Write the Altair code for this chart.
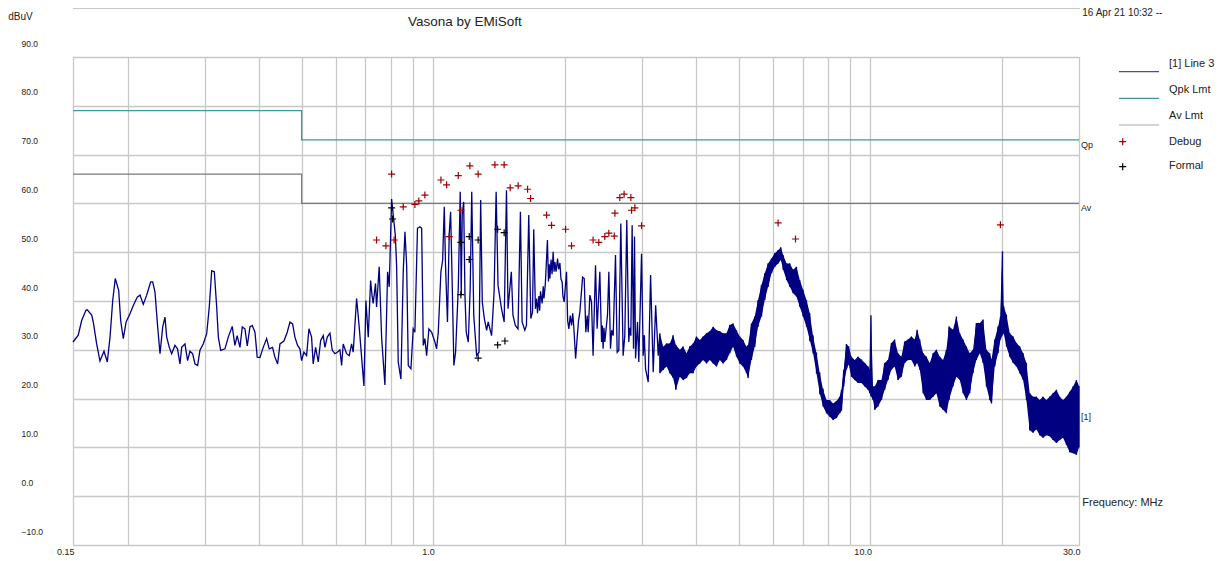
import altair as alt
import pandas as pd

FONT = "Liberation Sans"
NAVY = "#000080"
TEAL = "#3a9c96"
GRAY = "#7a7a7a"
GRID = "#c8c8c8"
TXT = "#222222"

# ---- measured trace "[1] Line 3" (MHz, dBuV), 0.15 - 3.3 MHz ----
trace_f = [0.1500, 0.1542, 0.1570, 0.1606, 0.1617, 0.1655, 0.1669, 0.1699, 0.1729, 0.1766,
           0.1797, 0.1823, 0.1849, 0.1874, 0.1908, 0.1928, 0.1955, 0.1984, 0.2025, 0.2061,
           0.2104, 0.2135, 0.2172, 0.2211, 0.2258, 0.2282, 0.2310, 0.2343, 0.2372, 0.2406,
           0.2435, 0.2457, 0.2491, 0.2522, 0.2566, 0.2601, 0.2635, 0.2659, 0.2705, 0.2743,
           0.2777, 0.2816, 0.2852, 0.2892, 0.2927, 0.2978, 0.3033, 0.3075, 0.3114, 0.3157,
           0.3197, 0.3225, 0.3265, 0.3339, 0.3398, 0.3470, 0.3519, 0.3561, 0.3614, 0.3658,
           0.3710, 0.3756, 0.3809, 0.3856, 0.3911, 0.3958, 0.4015, 0.4085, 0.4159, 0.4217,
           0.4290, 0.4345, 0.4407, 0.4461, 0.4556, 0.4636, 0.4702, 0.4769, 0.4827, 0.4895,
           0.4956, 0.5000, 0.5062, 0.5134, 0.5197, 0.5270, 0.5315, 0.5383, 0.5458, 0.5528,
           0.5604, 0.5654, 0.5723, 0.5805, 0.5876, 0.5961, 0.6033, 0.6118, 0.6173, 0.6225,
           0.6337, 0.6425, 0.6506, 0.6561, 0.6680, 0.6772, 0.6858, 0.6942, 0.7016, 0.7103,
           0.7191, 0.7245, 0.7290, 0.7380, 0.7421, 0.7524, 0.7620, 0.7754, 0.7865, 0.7932,
           0.8033, 0.8190, 0.8247, 0.8318, 0.8436, 0.8540, 0.8617, 0.8695, 0.8770, 0.8893,
           0.9000, 0.9080, 0.9205, 0.9323, 0.9410, 0.9490, 0.9570, 0.9660, 0.9776, 0.9920,
           1.009, 1.018, 1.027, 1.0414, 1.051, 1.060, 1.067, 1.078, 1.088, 1.096,
           1.105, 1.115, 1.125, 1.141, 1.153, 1.159, 1.165, 1.174, 1.182, 1.190,
           1.203, 1.215, 1.225, 1.238, 1.257, 1.273, 1.284, 1.295, 1.309, 1.325,
           1.336, 1.360, 1.378, 1.393, 1.407, 1.433, 1.453, 1.471, 1.483, 1.509,
           1.522, 1.541, 1.563, 1.583, 1.597, 1.620, 1.634, 1.654, 1.672, 1.687,
           1.698, 1.713, 1.725, 1.732, 1.745, 1.752, 1.760, 1.775, 1.785, 1.792,
           1.805, 1.825, 1.835, 1.842, 1.849, 1.860, 1.870, 1.881, 1.890, 1.898,
           1.910, 1.925, 1.935, 1.949, 1.960, 1.972, 1.980, 1.993, 2.018, 2.030,
           2.043, 2.058, 2.072, 2.085, 2.098, 2.117, 2.135, 2.150, 2.165,
           2.196, 2.215, 2.234, 2.250, 2.262, 2.282, 2.302, 2.321, 2.351, 2.371, 2.405,
           2.427, 2.437, 2.447, 2.458, 2.469, 2.504, 2.522, 2.544, 2.560, 2.580, 2.612, 2.635, 2.658,
           2.686, 2.719, 2.743, 2.772, 2.801, 2.815, 2.832, 2.851, 2.872, 2.887, 2.903,
           2.933, 2.953, 2.996, 3.022, 3.040, 3.060, 3.103, 3.142, 3.186, 3.227, 3.271]
trace_v = [31.6, 33.0, 36.0, 38.1, 38.2, 37.1, 35.7, 31.2, 27.7, 29.7,
           27.5, 32.6, 40.1, 44.6, 42.2, 36.0, 32.3, 35.7, 37.4, 39.1,
           40.8, 41.2, 39.3, 41.2, 43.9, 43.9, 41.8, 34.7, 29.2, 34.7,
           36.7, 32.6, 30.5, 29.2, 30.9, 30.2, 27.1, 30.5, 31.2, 27.8,
           29.7, 29.2, 27.1, 26.8, 29.9, 31.2, 33.3, 38.8, 46.2, 46.0,
           38.8, 32.6, 29.9, 30.2, 32.6, 34.8, 30.9, 32.9, 30.5, 34.7,
           34.3, 30.8, 34.7, 35.0, 33.6, 28.5, 28.4, 30.5, 32.3, 30.2,
           30.5, 28.5, 27.1, 31.2, 31.8, 33.6, 35.7, 35.3, 32.6, 30.9,
           30.2, 27.8, 29.5, 28.8, 34.3, 32.6, 27.1, 30.5, 27.5, 31.9,
           32.9, 30.5, 32.6, 33.4, 29.9, 29.2, 29.5, 30.0, 26.8, 31.2,
           29.2, 28.8, 31.2, 29.5, 40.5, 34.7, 28.5, 22.6, 40.1, 32.6,
           44.2, 41.2, 39.5, 43.6, 38.8, 47.0, 32.6, 22.8, 46.0, 42.9,
           60.9, 53.5, 47.3, 27.5, 24.0, 46.0, 54.2, 47.3, 26.8, 26.1,
           34.3, 33.6, 54.9, 55.2, 54.9, 30.9, 32.3, 28.8, 34.3, 33.6,
           31.6, 30.2, 33.6, 46.0, 48.4, 59.3, 47.3, 35.7, 53.8, 58.3,
           43.9, 26.8, 29.5, 42.5, 62.4, 41.2, 57.6, 60.3, 41.2, 33.6,
           31.6, 42.5, 62.4, 37.1, 28.8, 29.5, 60.7, 39.8, 36.4, 34.0,
           35.7, 32.9, 41.8, 62.4, 43.2, 38.4, 35.7, 62.7, 38.4, 46.0,
           37.1, 35.0, 34.3, 58.3, 35.7, 34.0, 35.0, 57.6, 36.4, 37.7,
           54.7, 38.4, 40.5, 37.5, 41.0, 38.0, 42.0, 39.5, 43.0, 40.5,
           43.5, 52.5, 44.0, 47.5, 44.6, 48.5, 45.5, 50.1, 46.0, 48.0,
           46.0, 48.7, 46.5, 47.8, 44.5, 43.9, 41.0, 39.8, 46.0, 36.0,
           34.3, 37.0, 35.0, 37.5, 34.3, 28.2, 32.6, 36.0, 37.7,
           44.9, 44.6, 33.6, 37.0, 33.6, 41.2, 39.8, 28.8, 47.3, 34.3, 46.0,
           31.6, 35.0, 30.2, 34.5, 31.6, 37.1, 46.0, 30.2, 34.0, 32.9, 49.4, 29.5, 29.9,
           55.9, 28.8, 32.9, 56.6, 31.6, 34.5, 32.9, 55.5, 30.2, 53.2, 28.2,
           35.7, 27.5, 49.7, 28.8, 33.0, 26.1, 23.4, 45.3, 25.4, 39.1, 28.8]

# ---- dense noise band of the same trace, 3.3 - 30 MHz (upper / lower edge) ----
band_f = [3.299, 3.358, 3.418, 3.477, 3.538, 3.589, 3.665, 3.729, 3.796, 3.863,
          3.931, 4.000, 4.072, 4.143, 4.218, 4.292, 4.368, 4.446, 4.524, 4.603,
          4.686, 4.768, 4.852, 4.939, 5.026, 5.114, 5.206, 5.250, 5.344, 5.438,
          5.534, 5.634, 5.733, 5.834, 5.940, 6.045, 6.152, 6.240, 6.317, 6.431,
          6.540, 6.655, 6.775, 6.893, 7.015, 7.142, 7.266, 7.395, 7.528, 7.659,
          7.794, 7.935, 8.073, 8.215, 8.363, 8.509, 8.586, 8.690, 8.814, 8.921,
          9.048, 9.207, 9.369, 9.538, 9.706, 9.878, 9.965, 10.03, 10.14, 10.23,
          10.41, 10.60, 10.78, 10.97, 11.17, 11.36, 11.56, 11.77, 11.98, 12.19,
          12.41, 12.63, 12.79, 12.97, 13.20, 13.43, 13.67, 13.91, 14.16, 14.41,
          14.66, 14.92, 15.13, 15.45, 15.73, 16.01, 16.29, 16.58, 16.87, 17.17,
          17.47, 17.79, 18.10, 18.42, 18.75, 18.92, 19.25, 19.59, 19.84, 20.05,
          20.18, 20.47, 20.83, 21.20, 21.58, 21.96, 22.35, 22.74, 23.14, 23.55,
          23.97, 24.39, 24.82, 25.27, 25.71, 26.16, 26.64, 27.10, 27.58, 28.08,
          28.57, 29.08, 29.60, 30.00]
band_hi = [33.4, 30.6, 31.3, 31.3, 33.0, 31.0, 30.0, 30.7, 29.3, 30.7,
           31.3, 32.7, 32.0, 32.7, 33.4, 33.8, 34.7, 34.0, 33.8, 33.4,
           33.4, 35.1, 35.4, 34.0, 32.7, 32.0, 30.6, 31.0, 35.4, 36.8,
           40.2, 43.3, 45.7, 47.7, 48.7, 49.8, 50.4, 51.0, 49.4, 47.7,
           47.7, 46.4, 47.0, 44.3, 42.3, 40.2, 37.5, 32.7, 29.3, 25.2,
           21.8, 19.7, 19.7, 19.0, 19.5, 20.4, 21.8, 25.9, 31.2, 30.7,
           28.6, 27.9, 28.6, 28.0, 27.3, 26.6, 25.9, 37.1, 22.5, 22.5,
           23.8, 23.8, 27.3, 27.9, 31.4, 32.1, 29.3, 28.6, 31.7, 32.1,
           32.7, 32.1, 34.1, 32.1, 29.3, 28.6, 27.3, 29.3, 30.0, 28.6,
           27.9, 30.0, 34.8, 34.1, 36.8, 33.4, 32.1, 30.7, 29.3, 30.0,
           35.5, 35.5, 36.2, 30.0, 29.3, 28.0, 32.1, 34.8, 36.8, 50.2,
           38.9, 37.2, 33.4, 32.7, 31.4, 30.7, 29.3, 27.3, 21.1, 20.4,
           20.4, 19.7, 20.4, 19.7, 20.4, 21.1, 21.8, 20.4, 19.7, 20.4,
           21.4, 22.5, 23.8, 22.6]
band_lo = [25.2, 25.9, 26.6, 25.2, 24.2, 21.8, 24.5, 23.8, 24.2, 25.2,
           25.2, 26.6, 27.2, 27.9, 27.2, 27.9, 27.2, 26.6, 27.9, 27.2,
           27.9, 29.3, 30.6, 28.6, 27.2, 26.6, 25.2, 24.2, 27.9, 30.6,
           34.7, 36.8, 40.2, 42.9, 45.7, 47.0, 47.7, 48.4, 46.4, 44.3,
           42.9, 41.6, 40.9, 38.8, 36.8, 34.7, 32.0, 29.3, 25.2, 21.1,
           18.4, 17.0, 16.3, 15.6, 16.0, 17.0, 17.5, 22.5, 25.9, 27.0,
           24.5, 23.8, 23.2, 23.2, 22.5, 21.8, 21.1, 20.5, 19.7, 17.7,
           18.4, 19.7, 21.8, 23.8, 25.9, 26.6, 23.8, 24.5, 27.3, 27.9,
           27.9, 26.6, 27.3, 25.9, 21.1, 19.7, 19.7, 20.4, 21.1, 18.4,
           17.7, 17.0, 19.7, 22.5, 24.5, 23.8, 21.1, 19.7, 21.1, 25.2,
           27.9, 29.3, 27.3, 22.5, 19.7, 19.0, 26.6, 29.3, 32.1, 33.0,
           33.4, 30.7, 28.6, 27.3, 26.6, 25.2, 23.8, 19.7, 13.5, 13.0,
           13.7, 12.5, 12.0, 12.5, 12.3, 11.5, 10.9, 11.5, 12.0, 10.5,
           9.0, 8.8, 8.5, 10.0]

# ---- marker readings ----
debug_f = [0.7421, 0.7795, 0.8033, 0.814, 0.854, 0.908, 0.927, 0.957, 1.0414, 1.073,
           1.088, 1.141, 1.157, 1.213, 1.267, 1.384, 1.453, 1.500, 1.564, 1.644,
           1.670, 1.817, 1.865, 2.008, 2.072, 2.321, 2.392, 2.469, 2.522, 2.595,
           2.604, 2.672, 2.733, 2.832, 2.842, 2.892, 2.996, 6.15, 6.74, 19.83]
debug_v = [52.5, 51.3, 66.0, 52.5, 59.3, 59.8, 60.5, 61.7, 64.8, 63.8,
           53.2, 65.7, 58.6, 67.7, 66.0, 67.9, 67.9, 63.2, 63.6, 62.9,
           61.0, 57.6, 55.5, 54.7, 51.3, 52.5, 52.0, 53.2, 53.9, 53.3,
           58.0, 61.2, 61.9, 61.2, 58.6, 59.1, 55.4, 56.0, 52.7, 55.6]
formal_f = [0.8033, 0.8074, 1.157, 1.157, 1.209, 1.209, 1.267, 1.267, 1.404, 1.453, 1.404, 1.459]
formal_v = [59.1, 56.8, 52.0, 41.3, 53.2, 48.5, 52.5, 28.3, 54.7, 54.0, 31.0, 31.8]

# ---- limits ----
qpk_f = [0.15, 0.5, 30.0]
qpk_v = [79.0, 73.0, 73.0]
av_f = [0.15, 0.5, 30.0]
av_v = [66.0, 60.0, 60.0]

# ---- axes ----
x_grid = [0.15, 0.2, 0.3, 0.4, 0.5, 0.6, 0.7, 0.8, 0.9, 1, 2, 3, 4, 5, 6, 7, 8, 9, 10, 20, 30]
x_labels = [0.15, 1, 10, 30]
x_label_text = ["0.15", "1.0", "10.0", "30.0"]
y_ticks = [-10, 0, 10, 20, 30, 40, 50, 60, 70, 80, 90]

legend_names = ["[1] Line 3", "Qpk Lmt", "Av Lmt", "Debug", "Formal"]

W, H = 1006, 488

expr = " : ".join(f"datum.value == {v} ? '{t}'" for v, t in zip(x_labels, x_label_text)) + " : ''"

xscale = alt.Scale(type="log", domain=[0.15, 30], nice=False, zero=False)
yscale = alt.Scale(domain=[-10, 90], nice=False, zero=False)
xaxis = alt.Axis(values=x_grid, labelExpr=expr, grid=True, gridColor=GRID, gridWidth=1.3,
                 ticks=False, tickSize=0, domain=False, labelFontSize=9, labelColor=TXT,
                 labelFont=FONT, labelAlign="right", labelBaseline="top", labelPadding=2,
                 labelOffset=1, labelFlush=False, labelOverlap=False, title=None)
yaxis = alt.Axis(values=y_ticks, format=".1f", grid=True, gridColor=GRID, gridWidth=1.3,
                 ticks=False, tickSize=0, domain=False, labelFontSize=8.5, labelColor=TXT,
                 labelFont=FONT, labelAlign="left", labelBaseline="middle", labelPadding=52,
                 labelOffset=-14, labelFlush=False, labelOverlap=False, title=None)

X = alt.X("f:Q", scale=xscale, axis=xaxis)
Y = alt.Y("v:Q", scale=yscale, axis=yaxis)

# line data: trace points then the band as vertical strokes
rows = [{"f": f, "v": v} for f, v in zip(trace_f, trace_v)]
for f, hi, lo in zip(band_f, band_hi, band_lo):
    rows.append({"f": f, "v": hi})
    rows.append({"f": f, "v": lo})
for i, r in enumerate(rows):
    r["i"] = i
line_df = pd.DataFrame(rows)
band_df = pd.DataFrame({"f": band_f, "v": band_lo, "hi": band_hi})

qpk = alt.Chart(pd.DataFrame({"f": qpk_f, "v": qpk_v})).mark_line(
    interpolate="step-after", color=TEAL, strokeWidth=1.3).encode(x=X, y=Y)
av = alt.Chart(pd.DataFrame({"f": av_f, "v": av_v})).mark_line(
    interpolate="step-after", color=GRAY, strokeWidth=1.2).encode(x=X, y=Y)

band = alt.Chart(band_df).mark_area(color=NAVY, opacity=1).encode(
    x=X, y=Y, y2=alt.Y2("hi:Q"))
trace = alt.Chart(line_df).mark_line(color=NAVY, strokeWidth=1.3).encode(
    x=X, y=Y, order=alt.Order("i:Q"))

PLUS = "M-1,0L1,0M0,-1L0,1"
dbg = alt.Chart(pd.DataFrame({"f": debug_f, "v": debug_v})).mark_point(
    shape=PLUS, size=49, filled=False, strokeWidth=1.2, color="#a00000", opacity=1).encode(x=X, y=Y)
frm = alt.Chart(pd.DataFrame({"f": formal_f, "v": formal_v})).mark_point(
    shape=PLUS, size=49, filled=False, strokeWidth=1.2, color="#000000", opacity=1).encode(x=X, y=Y)


def label(text, x, y, size, color=TXT, align="left", baseline="middle"):
    return alt.Chart(alt.Data(values=[{"t": text}])).mark_text(
        align=align, baseline=baseline, fontSize=size, color=color, font=FONT).encode(
        text="t:N", x=alt.value(x), y=alt.value(y))


def vlabel(text, value, dy, size=9):
    return alt.Chart(pd.DataFrame({"v": [value], "t": [text]})).mark_text(
        align="left", baseline="middle", fontSize=size, color=TXT, font=FONT, dy=dy).encode(
        text="t:N", x=alt.value(W + 2), y=Y)


def hrule(x1, x2, y, color, width=1.2):
    return alt.Chart(alt.Data(values=[{}])).mark_rule(color=color, strokeWidth=width).encode(
        x=alt.value(x1), x2=alt.value(x2), y=alt.value(y))


def marker(x, y, color):
    return alt.Chart(alt.Data(values=[{}])).mark_point(
        shape=PLUS, size=49, filled=False, strokeWidth=1.2, color=color, opacity=1).encode(
        x=alt.value(x), y=alt.value(y))


layers = [
    qpk, av, band, trace, dbg, frm,
    hrule(0, W + 1, -48.7, GRID, 1.3),
    label("Vasona by EMiSoft", 335, -35, 13.5),
    label("dBuV", -64.7, -40.3, 10),
    label("16 Apr 21 10:32 --", 1009.3, -41.5, 10, baseline="alphabetic"),
    vlabel("Qp", qpk_v[-1], 5),
    vlabel("Av", av_v[-1], 5),
    label("[1]", W + 2, 359.7, 9),
    label("Frequency: MHz", W + 3.3, 445.7, 11),
    hrule(1046, 1086, 14.7, "#4a4aa0", 1.2),
    hrule(1046, 1086, 41.3, TEAL, 1.2),
    hrule(1046, 1086, 68.0, "#aaaaaa", 1.2),
    marker(1049.7, 84.7, "#a00000"),
    marker(1049.7, 109.7, "#000000"),
    label(legend_names[0], 1096, 7, 11),
    label(legend_names[1], 1096, 33, 11),
    label(legend_names[2], 1096, 59, 11),
    label(legend_names[3], 1096, 84.7, 11),
    label(legend_names[4], 1096, 108.7, 11),
]

chart = alt.layer(*layers).properties(
    width=W, height=H,
    padding={"left": 65, "top": 49, "right": 138, "bottom": 13},
    autosize=alt.AutoSizeParams(type="none"),
    background="white",
).configure_view(stroke=GRID, strokeWidth=1.3).configure(font=FONT)

chart.save("out.html", embed_options={"renderer": "svg", "actions": False})
